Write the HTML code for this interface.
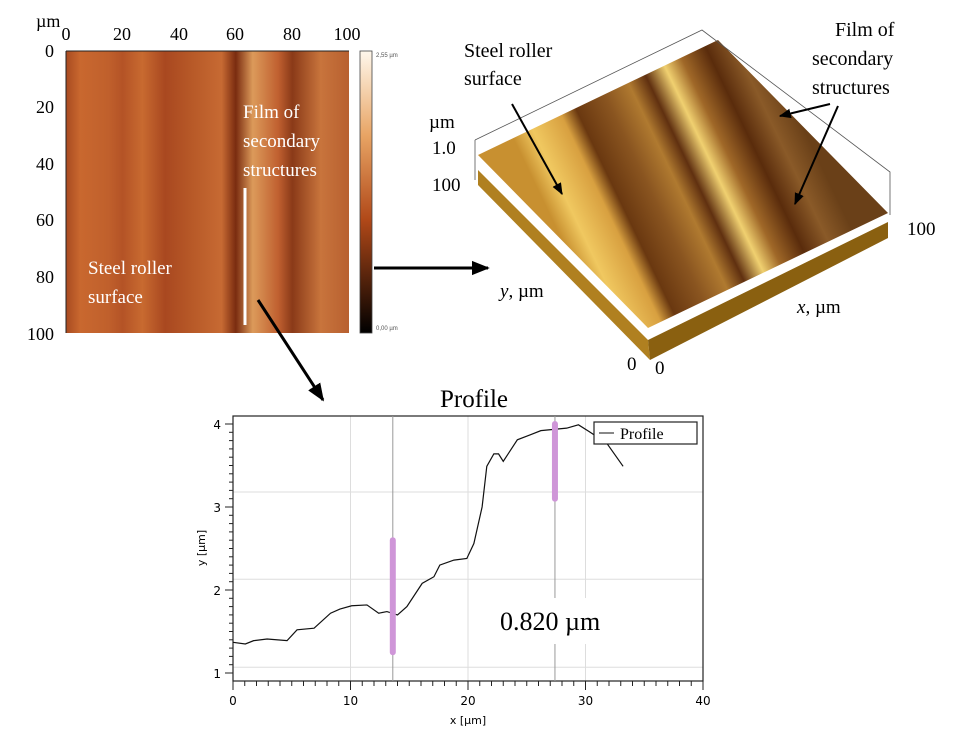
<!DOCTYPE html>
<html><head><meta charset="utf-8"><style>
body{margin:0;background:#fff;width:957px;height:744px;overflow:hidden;font-family:"Liberation Serif",serif}
svg{position:absolute;left:0;top:0}
</style></head><body>
<svg width="957" height="744" viewBox="0 0 957 744">
<defs>
<linearGradient id="mapg" x1="0" x2="1" y1="0" y2="0">
<stop offset="0" stop-color="#a84a20"/><stop offset="0.05" stop-color="#c9682f"/><stop offset="0.15" stop-color="#c0602c"/><stop offset="0.2" stop-color="#b45326"/><stop offset="0.27" stop-color="#c86a30"/><stop offset="0.35" stop-color="#a94820"/><stop offset="0.45" stop-color="#b85a28"/><stop offset="0.55" stop-color="#c76a33"/><stop offset="0.6" stop-color="#7a2c10"/><stop offset="0.66" stop-color="#dc9a5a"/><stop offset="0.75" stop-color="#c06030"/><stop offset="0.8" stop-color="#8a3a18"/><stop offset="0.9" stop-color="#c8743c"/><stop offset="1" stop-color="#b86030"/>
</linearGradient>
<linearGradient id="cbg" x1="0" x2="0" y1="0" y2="1">
<stop offset="0" stop-color="#fff8ec"/><stop offset="0.3" stop-color="#e8a464"/><stop offset="0.6" stop-color="#b04818"/><stop offset="1" stop-color="#000"/>
</linearGradient>
<linearGradient id="surf" gradientUnits="userSpaceOnUse" x1="563" y1="242" x2="803" y2="127">
<stop offset="0" stop-color="#c89030"/><stop offset="0.08" stop-color="#f0c860"/><stop offset="0.2" stop-color="#d8a040"/><stop offset="0.26" stop-color="#6a3810"/><stop offset="0.38" stop-color="#8a5520"/><stop offset="0.48" stop-color="#b07a30"/><stop offset="0.55" stop-color="#603010"/><stop offset="0.63" stop-color="#f0d070"/><stop offset="0.7" stop-color="#a06828"/><stop offset="0.8" stop-color="#5a2c0c"/><stop offset="0.9" stop-color="#8a5a28"/><stop offset="1" stop-color="#6a4018"/>
</linearGradient>
<marker id="ah" viewBox="0 0 10 10" refX="9" refY="5" markerWidth="6" markerHeight="6" orient="auto"><path d="M0,1 L10,5 L0,9 Z" fill="#000"/></marker>
</defs>

<!-- left AFM map -->
<g>
<rect x="66" y="51" width="283" height="282" fill="url(#mapg)"/>
<line x1="66" y1="51" x2="349" y2="51" stroke="#222"/>
<line x1="66" y1="51" x2="66" y2="333" stroke="#222"/>
<line x1="245" y1="188" x2="245" y2="325" stroke="#fff" stroke-width="3"/>
<text x="36" y="27" font-size="18">µm</text>
<g font-size="18" text-anchor="middle">
<text x="66" y="40">0</text><text x="122" y="40">20</text><text x="179" y="40">40</text><text x="235" y="40">60</text><text x="292" y="40">80</text><text x="347" y="40">100</text></g>
<g font-size="18" text-anchor="end">
<text x="54" y="57">0</text><text x="54" y="113">20</text><text x="54" y="170">40</text><text x="54" y="226">60</text><text x="54" y="283">80</text><text x="54" y="340">100</text></g>
<text x="243" y="118" font-size="19" fill="#fff"><tspan x="243">Film of</tspan><tspan x="243" dy="29">secondary</tspan><tspan x="243" dy="29">structures</tspan></text>
<text x="88" y="274" font-size="19" fill="#fff"><tspan x="88">Steel roller</tspan><tspan x="88" dy="29">surface</tspan></text>
<rect x="360" y="51" width="12" height="282" fill="url(#cbg)" stroke="#444" stroke-width="0.8"/>
<text x="376" y="57" font-size="6" font-family="Liberation Sans,sans-serif" fill="#555">2,55 µm</text>
<text x="376" y="330" font-size="6" font-family="Liberation Sans,sans-serif" fill="#555">0,00 µm</text>
</g>

<!-- arrows -->
<line x1="374" y1="268" x2="488" y2="268" stroke="#000" stroke-width="3" marker-end="url(#ah)"/>
<line x1="258" y1="300" x2="323" y2="400" stroke="#000" stroke-width="3" marker-end="url(#ah)"/>

<!-- 3D view -->
<g>
<polygon points="478,170 648,340 650,360 478,185" fill="#b08020"/>
<polygon points="648,340 888,222 888,238 650,360" fill="#8a6010"/>
<polygon points="478,155 718,40 888,213 648,328" fill="url(#surf)"/>
<polyline points="475,140 702,30 890,172 890,215" fill="none" stroke="#555" stroke-width="0.8"/>
<line x1="475" y1="140" x2="475" y2="180" stroke="#555" stroke-width="0.8"/>
<text x="429" y="128" font-size="19">µm</text>
<text x="432" y="154" font-size="19">1.0</text>
<text x="432" y="191" font-size="19">100</text>
<text x="907" y="235" font-size="19">100</text>
<text x="627" y="370" font-size="19">0</text>
<text x="655" y="374" font-size="19">0</text>
<text x="500" y="297" font-size="19"><tspan font-style="italic">y</tspan>,  µm</text>
<text x="797" y="313" font-size="19"><tspan font-style="italic">x</tspan>,  µm</text>
<text x="464" y="57" font-size="20"><tspan x="464">Steel roller</tspan><tspan x="464" dy="28">surface</tspan></text>
<text x="835" y="36" font-size="20"><tspan x="835">Film of</tspan><tspan x="812" dy="29">secondary</tspan><tspan x="812" dy="29">structures</tspan></text>
<line x1="512" y1="104" x2="562" y2="194" stroke="#000" stroke-width="2" marker-end="url(#ah)"/>
<line x1="830" y1="104" x2="780" y2="116" stroke="#000" stroke-width="2" marker-end="url(#ah)"/>
<line x1="838" y1="106" x2="795" y2="204" stroke="#000" stroke-width="2" marker-end="url(#ah)"/>
</g>

<g id="profile"></g>
</svg>
<script>
const xTicks=[0,10,20,30,40];
const yTicks=[1,2,3,4];
const profileX=[0,1.05,1.76,2.9,4.6,5.45,6.9,8.3,9.1,10.1,11.4,12.4,13.1,14.0,14.8,16.1,17.1,17.6,18.8,19.9,20.5,21.2,21.6,22.2,22.6,23.0,24.2,25.3,26.2,28.4,29.4,30.3,31.8,33.2];
const profileY=[1.37,1.35,1.39,1.41,1.39,1.52,1.54,1.72,1.77,1.81,1.82,1.72,1.74,1.70,1.80,2.08,2.16,2.30,2.36,2.38,2.56,3.0,3.49,3.64,3.64,3.55,3.81,3.87,3.92,3.95,3.99,3.91,3.77,3.49];
const cursorX=[13.6,27.4];
const cursorLow=[1.25,3.1];
const cursorHigh=[2.6,4.0];
const NS='http://www.w3.org/2000/svg';
const L=233,R=703,T=416,B=681;
const sx=v=>L+(v-0)/(40-0)*(R-L);
const sy=v=>673-(v-1)/(4-1)*(673-424);
const g=document.getElementById('profile');
function mk(t,a,p){const e=document.createElementNS(NS,t);for(const k in a)e.setAttribute(k,a[k]);(p||g).appendChild(e);return e;}
// grid
[10,20,30].forEach(v=>{const l=mk('line',{x1:sx(v),x2:sx(v),y1:T,y2:B,stroke:'#ddd'});

});
[3.18,2.13,1.07].forEach(v=>{const l=mk('line',{x1:L,x2:R,y1:sy(v),y2:sy(v),stroke:'#ddd'});

});
mk('rect',{x:L,y:T,width:R-L,height:B-T,fill:'none',stroke:'#222','stroke-width':1.2});
// cursor lines
cursorX.forEach(v=>{const l=mk('line',{x1:sx(v),x2:sx(v),y1:T,y2:B,stroke:'#999'});

});
// ticks
for(let v=0;v<=40;v+=1){mk('line',{x1:sx(v),x2:sx(v),y1:B,y2:B+(v%10==0?9:5),stroke:'#222'});}
for(let v=1;v<=4.05;v+=0.1){mk('line',{x1:L,x2:L-(Math.abs(v-Math.round(v))<0.01?8:4),y1:sy(v),y2:sy(v),stroke:'#222'});}
xTicks.forEach(v=>{const t=mk('text',{x:sx(v),y:B+24,'font-size':12,'text-anchor':'middle','font-family':'DejaVu Sans,sans-serif'});t.textContent=v;

});
yTicks.forEach(v=>{const t=mk('text',{x:L-12,y:sy(v)+5,'font-size':12,'text-anchor':'end','font-family':'DejaVu Sans,sans-serif'});t.textContent=v;

});
let t=mk('text',{x:468,y:724,'font-size':11,'text-anchor':'middle','font-family':'DejaVu Sans,sans-serif'});t.textContent='x [µm]';


t=mk('text',{x:205,y:548,'font-size':11,'text-anchor':'middle','font-family':'DejaVu Sans,sans-serif',transform:'rotate(-90 205 548)'});t.textContent='y [µm]';


t=mk('text',{x:474,y:407,'font-size':25,'text-anchor':'middle'});t.textContent='Profile';


// series
const pl=mk('polyline',{points:profileX.map((x,i)=>sx(x)+','+sy(profileY[i])).join(' '),fill:'none',stroke:'#111','stroke-width':1.2});


// cursor markers
cursorX.forEach((v,i)=>{const r=mk('line',{x1:sx(v),x2:sx(v),y1:sy(cursorHigh[i]),y2:sy(cursorLow[i]),stroke:'#cf96d8','stroke-width':6,'stroke-linecap':'round'});

});
// legend
const lg=mk('g',{});


mk('rect',{x:594,y:422,width:103,height:22,fill:'#fff',stroke:'#222','stroke-width':1.2},lg);
mk('line',{x1:599,x2:614,y1:433,y2:433,stroke:'#111'},lg);
t=mk('text',{x:620,y:439,'font-size':16},lg);t.textContent='Profile';
// annotation
mk('rect',{x:495,y:598,width:140,height:46,fill:'#fff'});
t=mk('text',{x:500,y:630,'font-size':26});t.textContent='0.820 µm';


</script>
</body></html>
